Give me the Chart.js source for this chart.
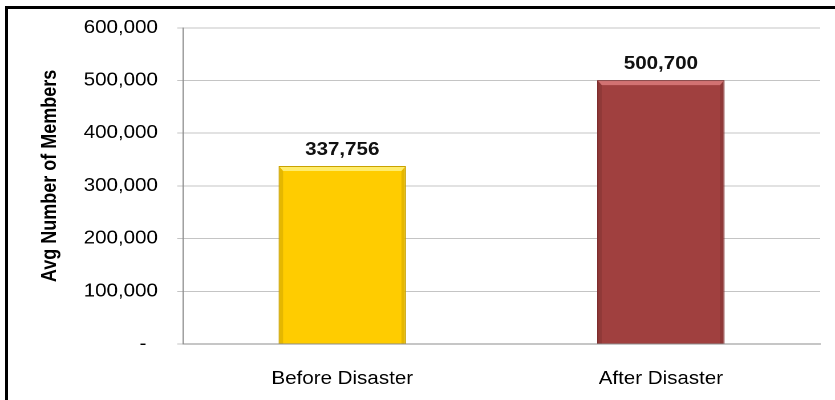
<!DOCTYPE html>
<html>
<head>
<meta charset="utf-8">
<script src="https://cdn.jsdelivr.net/npm/chart.js@4.4.1/dist/chart.umd.min.js"></script>
<style>
  html, body { margin: 0; padding: 0; background: #fff; overflow: hidden; }
  #frame {
    position: absolute; left: 5px; top: 6px; width: 900px; height: 500px;
    border-left: 3px solid #000; border-top: 3px solid #000;
  }
  /* the source picture is stretched sideways, so the chart is drawn 732 wide and widened to 835 */
  #wrap {
    position: absolute; left: 0; top: 0; width: 732px; height: 400px;
    transform: scaleX(1.1407); transform-origin: 0 0;
  }
</style>
</head>
<body>
<div id="frame"></div>
<div id="wrap"><canvas id="myChart" width="732" height="400"></canvas></div>
<script>
// chart data
const categories = ['Before Disaster', 'After Disaster'];
const members = [337756, 500700];
const barColors = ['#FFCC00', '#A0403F'];
const barBorders = ['#C9A200', '#7E2E2E'];
const barLights = ['rgba(255,240,120,0.9)', 'rgba(215,120,120,0.9)'];
const yTicks = [0, 100000, 200000, 300000, 400000, 500000, 600000];

const fmt = v => v.toLocaleString('en-US');
const fontFamily = '"Liberation Sans", Arial, sans-serif';

// value labels above the bars
const valueLabels = {
    id: 'valueLabels',
    afterDatasetsDraw(chart) {
        const c = chart.ctx;
        c.save();
        c.font = 'bold 18px ' + fontFamily;
        c.fillStyle = '#111';
        c.textAlign = 'center';
        c.textBaseline = 'alphabetic';
        chart.getDatasetMeta(0).data.forEach((bar, i) => {
            c.fillText(fmt(members[i]), bar.x, bar.y - 11);
        });
        c.restore();
    }
};

// small bevel so the bars look like the Excel ones
const bevel = {
    id: 'bevel',
    afterDatasetsDraw(chart) {
        const c = chart.ctx;
        c.save();
        chart.getDatasetMeta(0).data.forEach((bar, i) => {
            const l = bar.x - bar.width / 2, r = bar.x + bar.width / 2;
            const t = bar.y, b = bar.base, d = 4;
            c.fillStyle = barLights[i];
            c.beginPath();
            c.moveTo(l + 1, t + 1); c.lineTo(r - 1, t + 1);
            c.lineTo(r - d, t + d + 1); c.lineTo(l + d, t + d + 1);
            c.closePath(); c.fill();
            c.fillStyle = 'rgba(0,0,0,0.10)';
            c.beginPath();
            c.moveTo(r - 1, t + 1); c.lineTo(r - 1, b); c.lineTo(r - d, b); c.lineTo(r - d, t + d + 1);
            c.closePath(); c.fill();
            c.beginPath();
            c.moveTo(l + 1, t + 1); c.lineTo(l + 1, b); c.lineTo(l + d, b); c.lineTo(l + d, t + d + 1);
            c.closePath(); c.fill();
        });
        c.restore();
    }
};

const ctx = document.getElementById('myChart').getContext('2d');

const myChart = new Chart(ctx, {
    type: 'bar',
    data: {
        labels: categories,
        datasets: [{
            label: 'Avg Number of Members',
            data: members,
            backgroundColor: barColors,
            borderColor: barBorders,
            borderWidth: 1,
            barPercentage: 0.4,
            categoryPercentage: 1.0
        }]
    },
    options: {
        responsive: false,
        animation: false,
        devicePixelRatio: 2,
        layout: { padding: { top: 27, right: 13, left: 30, bottom: 0 } },
        plugins: {
            legend: { display: false },
            tooltip: { enabled: false }
        },
        scales: {
            x: {
                grid: { display: false, drawTicks: false },
                border: { display: true, color: '#8c8c8c', width: 1 },
                ticks: {
                    color: '#000',
                    padding: 24,
                    font: { family: fontFamily, size: 18 }
                },
                afterFit(scale) { scale.height = 56; }
            },
            y: {
                min: 0,
                max: 600000,
                afterBuildTicks(scale) { scale.ticks = yTicks.map(v => ({ value: v })); },
                grid: { color: '#c4c4c4', tickLength: 5, lineWidth: 1 },
                border: { display: true, color: '#8c8c8c', width: 1 },
                ticks: {
                    color: '#000',
                    padding: 17,
                    font: { family: fontFamily, size: 18 },
                    callback: v => v === 0 ? '-  ' : fmt(v)
                },
                title: {
                    display: true,
                    text: '    Avg Number of Members',
                    color: '#000',
                    padding: { top: 3, bottom: 0 },
                    font: { family: fontFamily, size: 18, weight: 'bold' }
                },
                afterFit(scale) { scale.width = 130.4; }
            }
        }
    },
    plugins: [bevel, valueLabels]
});
</script>
</body>
</html>
